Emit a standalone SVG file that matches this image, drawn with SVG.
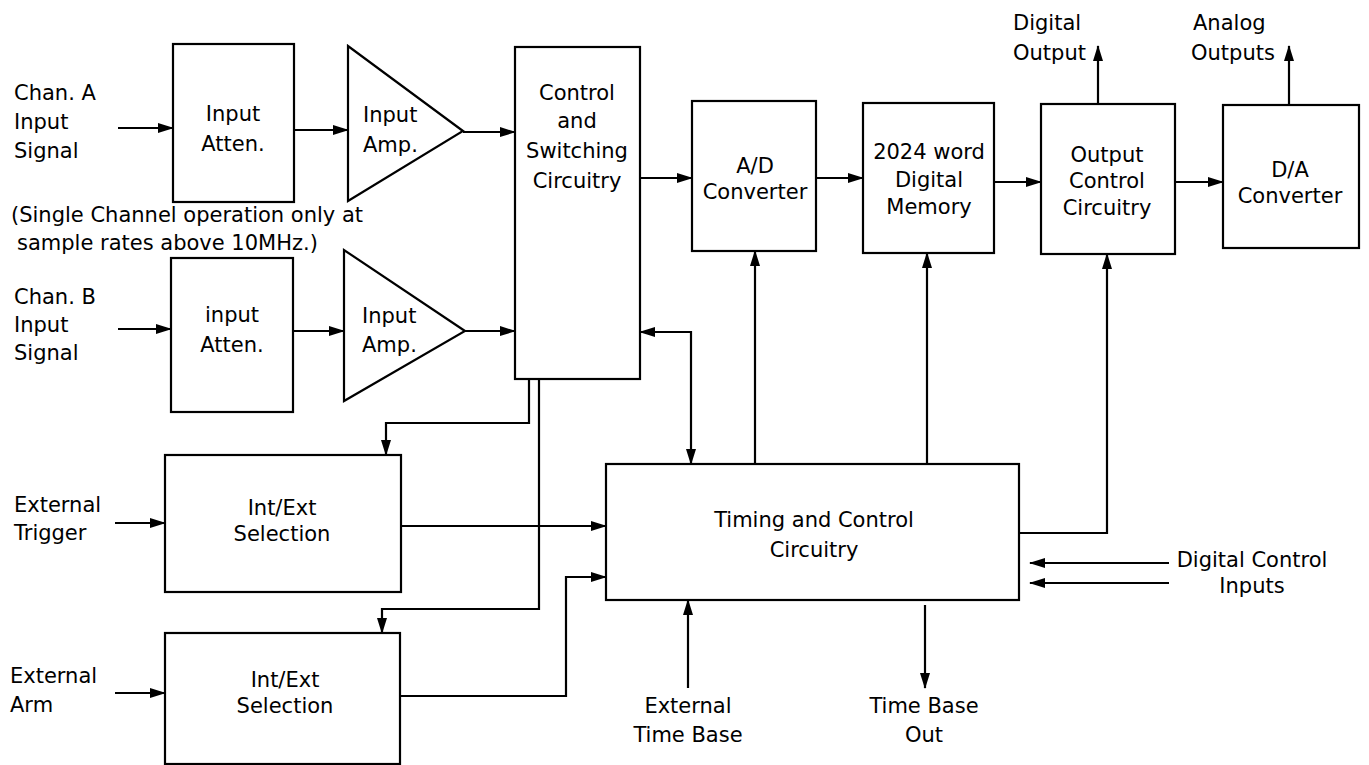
<svg xmlns="http://www.w3.org/2000/svg" width="1369" height="765" viewBox="0 0 1369 765">
<defs>
<marker id="ah" markerUnits="userSpaceOnUse" markerWidth="16" markerHeight="12" refX="15" refY="5" orient="auto-start-reverse" viewBox="0 0 16 10">
<path d="M0,0 L16,5 L0,10 z" fill="#000"/>
</marker>
<style>
.box{fill:#fff;stroke:#000;stroke-width:2.2}
.ln{fill:none;stroke:#000;stroke-width:2.2}
.ar{fill:none;stroke:#000;stroke-width:2.2;marker-end:url(#ah)}
.t{font-family:"DejaVu Sans",sans-serif;font-size:21px;fill:#000}
.c{text-anchor:middle}
</style>
</defs>
<rect width="1369" height="765" fill="#fff"/>

<g id="connectors">
<path class="ar" d="M118,128 H173"/>
<path class="ar" d="M294,130 H348"/>
<path class="ar" d="M463,132 H515"/>
<path class="ar" d="M118,329 H171"/>
<path class="ar" d="M293,331 H344"/>
<path class="ar" d="M465,331 H515"/>
<path class="ar" d="M640,178 H692"/>
<path class="ar" d="M816,178 H863"/>
<path class="ar" d="M994,182 H1041"/>
<path class="ar" d="M1175,182 H1223"/>
<path class="ar" d="M1098,104 V46"/>
<path class="ar" d="M1289,105 V46"/>
<path class="ar" d="M640,332 H691 V464" style="marker-start:url(#ah)"/>
<path class="ar" d="M529,379 V423 H386 V455"/>
<path class="ar" d="M539,379 V609 H382 V633"/>
<path class="ar" d="M115,523 H165"/>
<path class="ar" d="M401,526 H606"/>
<path class="ar" d="M115,693 H165"/>
<path class="ar" d="M400,696 H566 V577 H606"/>
<path class="ar" d="M755,464 V251"/>
<path class="ar" d="M927,464 V253"/>
<path class="ar" d="M1019,533 H1107 V254"/>
<path class="ar" d="M1169,563 H1030"/>
<path class="ar" d="M1169,583 H1030"/>
<path class="ar" d="M688,688 V600"/>
<path class="ar" d="M925,605 V688"/>
</g>

<g id="labels">
<text class="t" x="14" y="100">Chan. A</text>
<text class="t" x="14" y="129">Input</text>
<text class="t" x="14" y="158">Signal</text>
<text class="t" x="11" y="222">(Single Channel operation only at</text>
<text class="t" x="17" y="250">sample rates above 10MHz.)</text>
<text class="t" x="14" y="304">Chan. B</text>
<text class="t" x="14" y="332">Input</text>
<text class="t" x="14" y="360">Signal</text>
<text class="t" x="14" y="512">External</text>
<text class="t" x="14" y="540">Trigger</text>
<text class="t" x="10" y="683">External</text>
<text class="t" x="10" y="712">Arm</text>
<text class="t" x="1013" y="30">Digital</text>
<text class="t" x="1013" y="60">Output</text>
<text class="t" x="1193" y="30">Analog</text>
<text class="t" x="1191" y="60">Outputs</text>
<text class="t c" x="1252" y="567">Digital Control</text>
<text class="t c" x="1252" y="593">Inputs</text>
<text class="t c" x="688" y="713">External</text>
<text class="t c" x="688" y="742">Time Base</text>
<text class="t c" x="924" y="713">Time Base</text>
<text class="t c" x="924" y="742">Out</text>
</g>

<g id="atten-a">
<rect class="box" x="173" y="44" width="121" height="158"/>
<text class="t c" x="233" y="121">Input</text>
<text class="t c" x="233" y="151">Atten.</text>
</g>
<g id="amp-a">
<polygon class="box" points="348,46 348,201 463,131"/>
<text class="t" x="363" y="122">Input</text>
<text class="t" x="363" y="152">Amp.</text>
</g>
<g id="control">
<rect class="box" x="515" y="47" width="125" height="332"/>
<text class="t c" x="577" y="100">Control</text>
<text class="t c" x="577" y="128">and</text>
<text class="t c" x="577" y="158">Switching</text>
<text class="t c" x="577" y="188">Circuitry</text>
</g>
<g id="ad">
<rect class="box" x="692" y="101" width="124" height="150"/>
<text class="t c" x="755" y="173">A/D</text>
<text class="t c" x="755" y="199">Converter</text>
</g>
<g id="memory">
<rect class="box" x="863" y="103" width="131" height="150"/>
<text class="t c" x="929" y="159">2024 word</text>
<text class="t c" x="929" y="187">Digital</text>
<text class="t c" x="929" y="214">Memory</text>
</g>
<g id="output">
<rect class="box" x="1041" y="104" width="134" height="150"/>
<text class="t c" x="1107" y="162">Output</text>
<text class="t c" x="1107" y="188">Control</text>
<text class="t c" x="1107" y="215">Circuitry</text>
</g>
<g id="da">
<rect class="box" x="1223" y="105" width="136" height="143"/>
<text class="t c" x="1290" y="177">D/A</text>
<text class="t c" x="1290" y="203">Converter</text>
</g>
<g id="atten-b">
<rect class="box" x="171" y="258" width="122" height="154"/>
<text class="t c" x="232" y="322">input</text>
<text class="t c" x="232" y="352">Atten.</text>
</g>
<g id="amp-b">
<polygon class="box" points="344,250 344,401 465,331"/>
<text class="t" x="362" y="323">Input</text>
<text class="t" x="362" y="352">Amp.</text>
</g>
<g id="intext-1">
<rect class="box" x="165" y="455" width="236" height="137"/>
<text class="t c" x="282" y="515">Int/Ext</text>
<text class="t c" x="282" y="541">Selection</text>
</g>
<g id="intext-2">
<rect class="box" x="165" y="633" width="235" height="131"/>
<text class="t c" x="285" y="687">Int/Ext</text>
<text class="t c" x="285" y="713">Selection</text>
</g>
<g id="timing">
<rect class="box" x="606" y="464" width="413" height="136"/>
<text class="t c" x="814" y="527">Timing and Control</text>
<text class="t c" x="814" y="557">Circuitry</text>
</g>
</svg>
